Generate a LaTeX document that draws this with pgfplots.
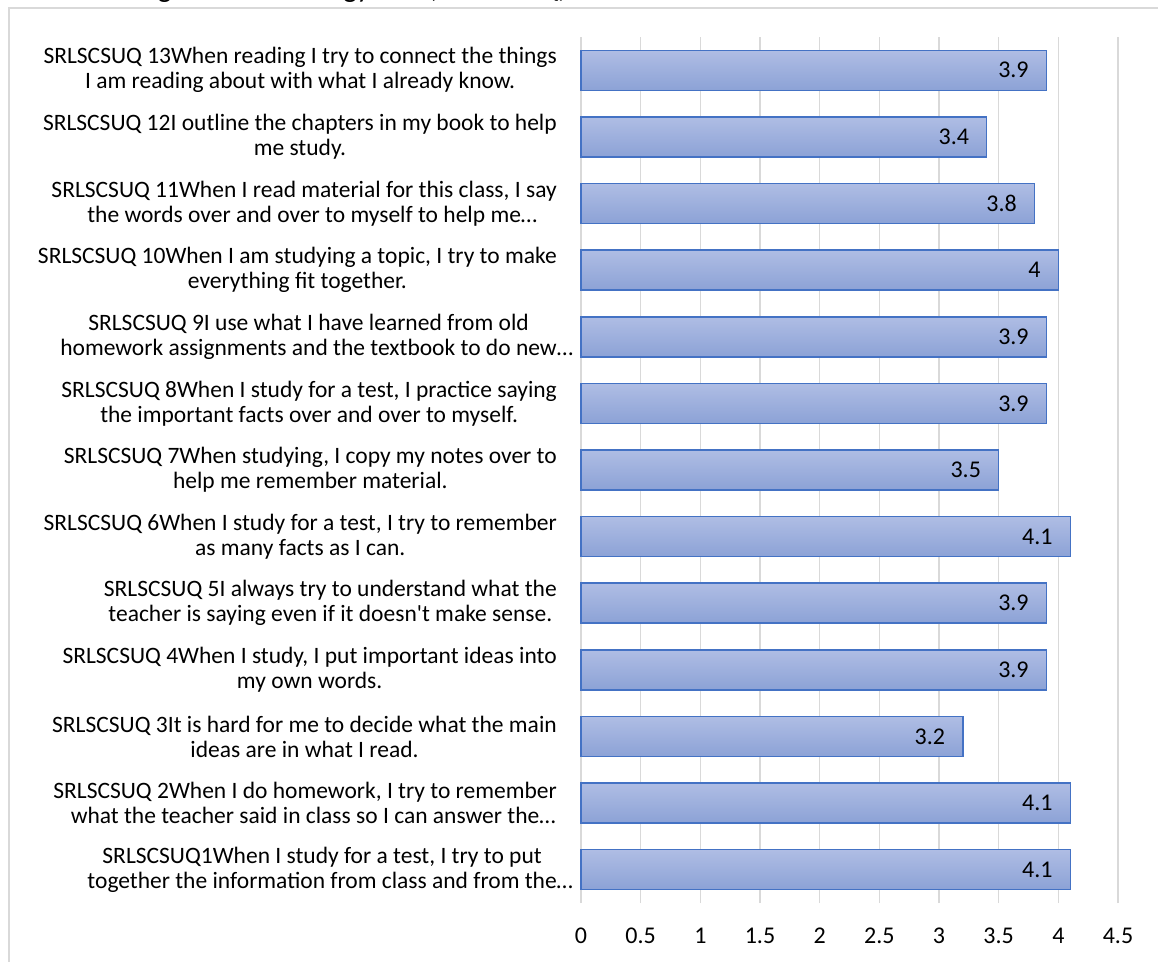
\documentclass[border=0pt]{standalone}
\usepackage{pgfplots}
\pgfplotsset{compat=1.18}
\usepackage{fontspec}
\setmainfont{Carlito}
\definecolor{barborder}{HTML}{4472C4}
\definecolor{bartop}{HTML}{AFBDE4}
\definecolor{barbot}{HTML}{8CA2D6}
\definecolor{gridgray}{HTML}{D9D9D9}
\newcommand{\lbl}{\fontsize{23.5}{25}\selectfont}
\newcommand{\num}{\fontsize{24}{26}\selectfont}
\begin{document}
\begin{tikzpicture}[x=1pt,y=1pt]
\path[use as bounding box] (0,0) rectangle (1158,961);
\draw[gridgray, line width=1.3pt] (9,-20) -- (9,953) -- (1200,953);
\node[anchor=base west, font=\fontsize{29}{34}\selectfont, inner sep=0pt] at (70,963.5) {Learning Science Strategy Use (SRLSCSUQ)};
\begin{axis}[
  at={(581pt,58pt)}, anchor=south west,
  scale only axis, width=537pt, height=866pt,
  xmin=0, xmax=4.5, ymin=0.5, ymax=13.5,
  xtick={0,0.5,1,1.5,2,2.5,3,3.5,4,4.5},
  axis line style={draw=none},
  major tick length=0pt,
  xmajorgrids, grid style={gridgray, line width=1.3pt},
  ytick={1,...,13},
  yticklabels={
    {SRLSCSUQ1When I study for a test, I try to put\\together the information from class and from the\rlap{…}},
    {SRLSCSUQ 2When I do homework, I try to remember\\what the teacher said in class so I can answer the\rlap{…}},
    {SRLSCSUQ 3It is hard for me to decide what the main\\ideas are in what I read.},
    {SRLSCSUQ 4When I study, I put important ideas into\\my own words.},
    {SRLSCSUQ 5I always try to understand what the\\teacher is saying even if it doesn\textquotesingle t make sense.},
    {SRLSCSUQ 6When I study for a test, I try to remember\\as many facts as I can.},
    {SRLSCSUQ 7When studying, I copy my notes over to\\help me remember material.},
    {SRLSCSUQ 8When I study for a test, I practice saying\\the important facts over and over to myself.},
    {SRLSCSUQ 9I use what I have learned from old\\homework assignments and the textbook to do new\rlap{…}},
    {SRLSCSUQ 10When I am studying a topic, I try to make\\everything fit together.},
    {SRLSCSUQ 11When I read material for this class, I say\\the words over and over to myself to help me\rlap{…}},
    {SRLSCSUQ 12I outline the chapters in my book to help\\me study.},
    {SRLSCSUQ 13When reading I try to connect the things\\I am reading about with what I already know.}
  },
  yticklabel style={align=center, anchor=east, inner sep=0pt, xshift=-24pt, font=\lbl},
  xticklabel style={anchor=north, inner sep=0pt, yshift=-25pt, font=\num},
  tick label style={text=black},
  /pgf/number format/assume math mode=true,
  xbar, bar width=40pt, bar shift=0pt,
  point meta=x,
  nodes near coords,
  nodes near coords style={anchor=east, inner sep=0pt, xshift=-17pt, font=\num, text=black},
  clip=false,
  mybar/.style={draw=barborder, line width=1.5pt, top color=bartop, bottom color=barbot},
]
\addplot[mybar] coordinates {(4.1,1)};
\addplot[mybar] coordinates {(4.1,2)};
\addplot[mybar] coordinates {(3.2,3)};
\addplot[mybar] coordinates {(3.9,4)};
\addplot[mybar] coordinates {(3.9,5)};
\addplot[mybar] coordinates {(4.1,6)};
\addplot[mybar] coordinates {(3.5,7)};
\addplot[mybar] coordinates {(3.9,8)};
\addplot[mybar] coordinates {(3.9,9)};
\addplot[mybar] coordinates {(4,10)};
\addplot[mybar] coordinates {(3.8,11)};
\addplot[mybar] coordinates {(3.4,12)};
\addplot[mybar] coordinates {(3.9,13)};
\end{axis}
\end{tikzpicture}
\end{document}
